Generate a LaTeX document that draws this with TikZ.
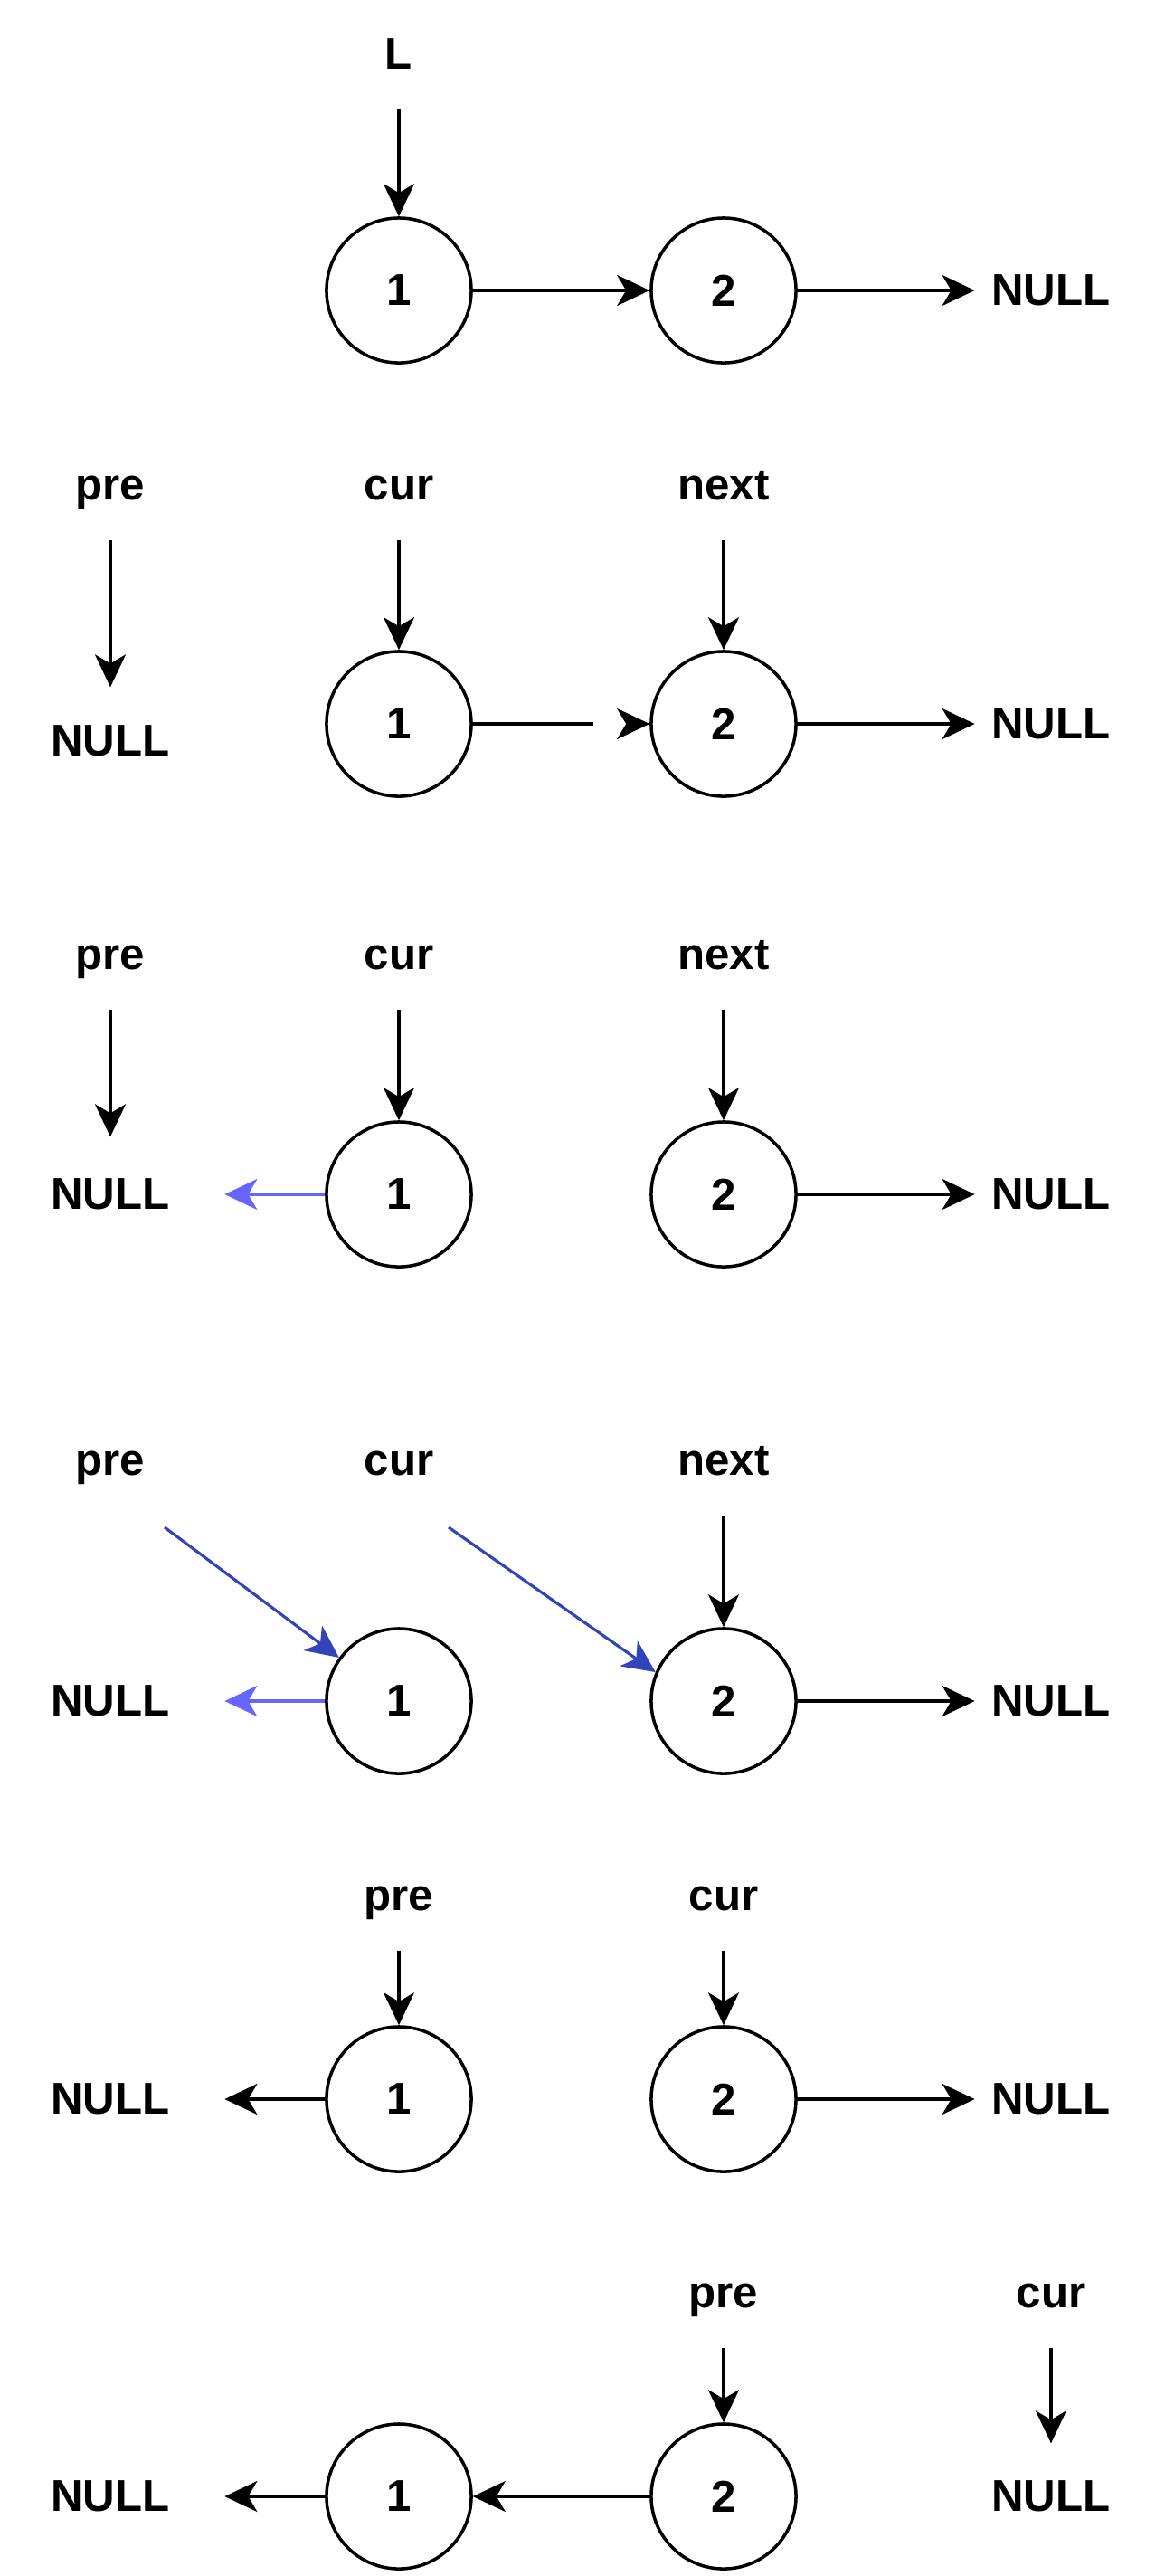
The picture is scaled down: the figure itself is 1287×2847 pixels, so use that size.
\documentclass[tikz,border=0pt]{standalone}
\usepackage{fontspec}
\setmainfont{Liberation Sans}
\usetikzlibrary{arrows.meta}

\definecolor{revblue}{HTML}{6666FF}
\definecolor{movblue}{HTML}{3344BB}

\begin{document}
\begin{tikzpicture}[
    x=0.01cm, y=-0.01cm,
    lnode/.style={
      circle, draw, line width=1pt, minimum size=1.6cm, inner sep=0pt,
      font=\bfseries\fontsize{14}{16}\selectfont,
    },
    ptrname/.style={font=\bfseries\fontsize{14}{16}\selectfont,
      inner sep=0pt, text depth=0pt, anchor=base},
    nul/.style={font=\bfseries\fontsize{14}{16}\selectfont,
      inner sep=0pt, text depth=0pt},
    ptr/.style={-{Stealth[length=0.36cm, width=0.34cm, inset=0.1cm]},
      line width=0.9pt},
    down/.style={ptr, shorten <=0.44cm},
    tonullr/.style={ptr, shorten >=0.18cm},
    tonulll/.style={ptr, shorten >=0.6cm},
  ]
  \useasboundingbox (0,0) rectangle (1287,2847);

  % ===== the list =====
  \node[ptrname] (L) at (441,76) {L};
  \node[lnode] (a1) at (441,321) {1};
  \node[lnode] (a2) at (800,321) {2};
  \node[nul] (an) at (1162,321) {NULL};
  \draw[down] (L) -- (a1);
  \draw[ptr] (a1) -- (a2);
  \draw[tonullr] (a2) -- (an);

  % ===== init pre / cur / next =====
  \foreach \n/\t/\x in {bpre/pre/122, bcur/cur/441, bnext/next/800}
    \node[ptrname] (\n) at (\x,552) {\t};
  \node[nul] (bnl) at (122,819) {NULL};
  \node[lnode] (b1) at (441,800) {1};
  \node[lnode] (b2) at (800,800) {2};
  \node[nul] (bnr) at (1162,800) {NULL};
  \draw[down, shorten >=0.42cm] (bpre) -- (bnl);
  \draw[down] (bcur) -- (b1);
  \draw[down] (bnext) -- (b2);
  \draw[ptr, dash pattern=on 38pt off 20pt] (b1) -- (b2);
  \draw[tonullr] (b2) -- (bnr);

  % ===== cur->next = pre =====
  \foreach \n/\t/\x in {cpre/pre/122, ccur/cur/441, cnext/next/800}
    \node[ptrname] (\n) at (\x,1071) {\t};
  \node[nul] (cnl) at (122,1320) {NULL};
  \node[lnode] (c1) at (441,1320) {1};
  \node[lnode] (c2) at (800,1320) {2};
  \node[nul] (cnr) at (1162,1320) {NULL};
  \draw[down, shorten >=0.46cm] (cpre) -- (cnl);
  \draw[down] (ccur) -- (c1);
  \draw[down] (cnext) -- (c2);
  \draw[tonulll, revblue] (c1) -- (cnl);
  \draw[tonullr] (c2) -- (cnr);

  % ===== pre = cur, cur = next =====
  \foreach \n/\t/\x in {dpre/pre/122, dcur/cur/441, dnext/next/800}
    \node[ptrname] (\n) at (\x,1630) {\t};
  \coordinate (dpfrom) at (182,1688);
  \coordinate (dcfrom) at (496,1688);
  \node[nul] (dnl) at (122,1880) {NULL};
  \node[lnode] (d1) at (441,1880) {1};
  \node[lnode] (d2) at (800,1880) {2};
  \node[nul] (dnr) at (1162,1880) {NULL};
  \draw[ptr, movblue] (dpfrom) -- (d1.144);
  \draw[ptr, movblue] (dcfrom) -- (d2.157);
  \draw[down] (dnext) -- (d2);
  \draw[tonulll, revblue] (d1) -- (dnl);
  \draw[tonullr] (d2) -- (dnr);

  % ===== next round =====
  \foreach \n/\t/\x in {epre/pre/441, ecur/cur/800}
    \node[ptrname] (\n) at (\x,2111) {\t};
  \node[nul] (enl) at (122,2320) {NULL};
  \node[lnode] (e1) at (441,2320) {1};
  \node[lnode] (e2) at (800,2320) {2};
  \node[nul] (enr) at (1162,2320) {NULL};
  \draw[down] (epre) -- (e1);
  \draw[down] (ecur) -- (e2);
  \draw[tonulll] (e1) -- (enl);
  \draw[tonullr] (e2) -- (enr);

  % ===== done =====
  \foreach \n/\t/\x in {fpre/pre/800, fcur/cur/1162}
    \node[ptrname] (\n) at (\x,2550) {\t};
  \node[nul] (fnl) at (122,2759) {NULL};
  \node[lnode] (f1) at (441,2759) {1};
  \node[lnode] (f2) at (800,2759) {2};
  \node[nul] (fnr) at (1162,2759) {NULL};
  \draw[down] (fpre) -- (f2);
  \draw[down, shorten >=0.41cm] (fcur) -- (fnr);
  \draw[tonulll] (f1) -- (fnl);
  \draw[ptr] (f2) -- (f1);
\end{tikzpicture}
\end{document}
